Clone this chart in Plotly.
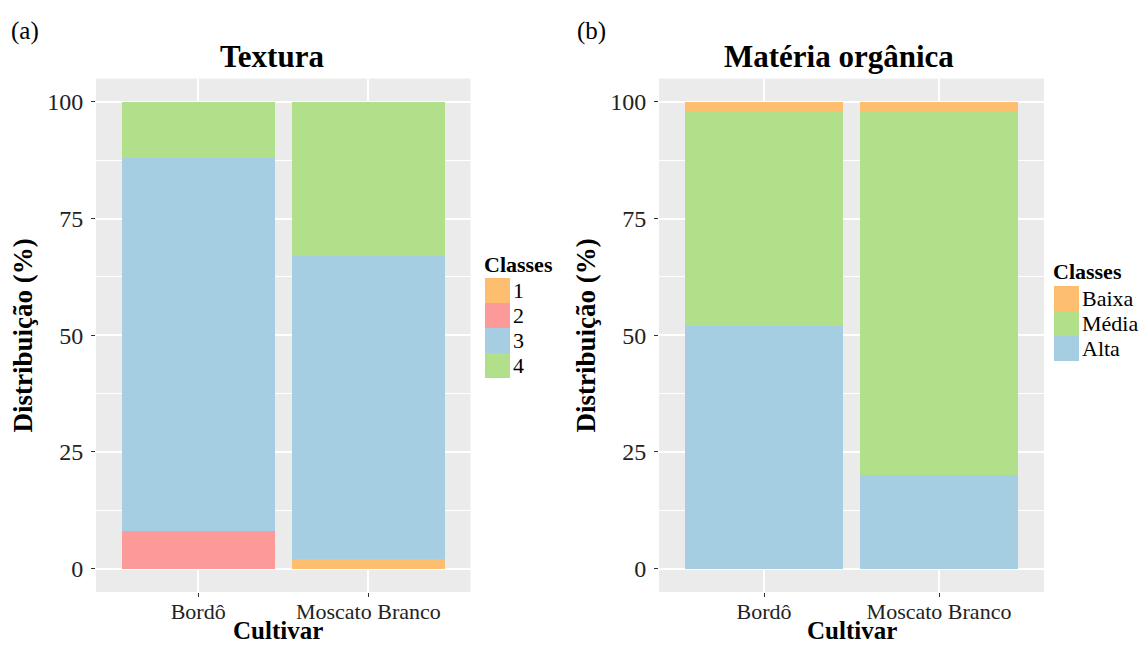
import plotly.graph_objects as go

# Data
cultivares = ["Bordô", "Moscato Branco"]

textura_classes = ["1", "2", "3", "4"]
textura_1 = [0, 2]
textura_2 = [8, 0]
textura_3 = [80, 65]
textura_4 = [12, 33]

mo_classes = ["Baixa", "Média", "Alta"]
mo_alta = [52, 20]
mo_media = [46, 78]
mo_baixa = [2, 2]

y_ticks = [0, 25, 50, 75, 100]

# Colours (ColorBrewer "Paired" tones)
C_ORANGE = "#FDBF6F"
C_RED = "#FB9A99"
C_BLUE = "#A6CEE3"
C_GREEN = "#B2DF8A"

FONT = "Liberation Serif"
W, H = 1145, 645

fig = go.Figure()

# Textura: stacked bottom to top 1, 2, 3, 4
for vals, col in [(textura_1, C_ORANGE), (textura_2, C_RED),
                  (textura_3, C_BLUE), (textura_4, C_GREEN)]:
    fig.add_trace(go.Bar(x=cultivares, y=vals, marker=dict(color=col, line_width=0),
                         xaxis="x", yaxis="y", showlegend=False))

# Matéria orgânica: stacked bottom to top Alta, Média, Baixa
for vals, col in [(mo_alta, C_BLUE), (mo_media, C_GREEN), (mo_baixa, C_ORANGE)]:
    fig.add_trace(go.Bar(x=cultivares, y=vals, marker=dict(color=col, line_width=0),
                         xaxis="x2", yaxis="y2", showlegend=False))


def px_x(p):
    return p / W


def px_y(p):
    return 1 - p / H


y_dom = [px_y(592), px_y(78.6)]

axis_common_x = dict(
    type="category", showgrid=True, gridcolor="white", gridwidth=1.6,
    ticks="outside", ticklen=4, tickcolor="#333333", tickwidth=1,
    ticklabelstandoff=-4,
    tickfont=dict(family=FONT, size=22, color="#222222"),
    zeroline=False, showline=False, range=[-0.6, 1.6], automargin=False,
)
axis_common_y = dict(
    range=[-5, 105], tickvals=y_ticks, ticktext=[str(v) for v in y_ticks],
    showgrid=True, gridcolor="white", gridwidth=1.6,
    minor=dict(tickvals=[12.5, 37.5, 62.5, 87.5], showgrid=True,
               gridcolor="white", gridwidth=0.7, ticks=""),
    ticks="outside", ticklen=4, tickcolor="#333333", tickwidth=1,
    ticklabelstandoff=3,
    tickfont=dict(family=FONT, size=24, color="#222222"),
    title=dict(text="<b>Distribuição (%)</b>", font=dict(family=FONT, size=27, color="black"),
               standoff=6),
    zeroline=False, showline=False, automargin=False,
)

fig.update_layout(
    width=W, height=H,
    margin=dict(l=0, r=0, t=0, b=0),
    paper_bgcolor="white", plot_bgcolor="#EBEBEB",
    barmode="stack", bargap=0.1,
    xaxis=dict(domain=[px_x(96), px_x(470.5)], anchor="y", **axis_common_x),
    yaxis=dict(domain=y_dom, anchor="x", **axis_common_y),
    xaxis2=dict(domain=[px_x(659), px_x(1044)], anchor="y2", **axis_common_x),
    yaxis2=dict(domain=y_dom, anchor="x2", **axis_common_y),
    font=dict(family=FONT),
)

annotations = []
shapes = []

# Panel labels, titles and x-axis titles
for lab, x in [("(a)", 9), ("(b)", 575)]:
    annotations.append(dict(text=lab, x=px_x(x), y=px_y(31), xref="paper", yref="paper",
                            xanchor="left", yanchor="middle", showarrow=False,
                            font=dict(family=FONT, size=25, color="black")))
for lab, x in [("<b>Textura</b>", 272), ("<b>Matéria orgânica</b>", 839)]:
    annotations.append(dict(text=lab, x=px_x(x), y=px_y(56), xref="paper",
                            yref="paper", xanchor="center", yanchor="middle", showarrow=False,
                            font=dict(family=FONT, size=31, color="black")))
for x in [278, 852]:
    annotations.append(dict(text="<b>Cultivar</b>", x=px_x(x), y=0, xref="paper",
                            yref="paper", xanchor="center", yanchor="bottom", showarrow=False,
                            borderpad=0, font=dict(family=FONT, size=25, color="black")))


def add_legend(x0, title_y, sw_top, labels, colors):
    annotations.append(dict(text="<b>Classes</b>", x=px_x(x0 - 3), y=px_y(title_y),
                            xref="paper", yref="paper", xanchor="left", yanchor="middle",
                            showarrow=False, font=dict(family=FONT, size=22, color="black")))
    sw = 25
    for i, (lab, col) in enumerate(zip(labels, colors)):
        top = sw_top + i * sw
        shapes.append(dict(type="rect", xref="paper", yref="paper",
                           x0=px_x(x0), x1=px_x(x0 + sw),
                           y0=px_y(top + sw), y1=px_y(top),
                           fillcolor=col, line=dict(width=0), layer="above"))
        annotations.append(dict(text=lab, x=px_x(x0 + sw + 1), y=px_y(top + sw / 2),
                                xref="paper", yref="paper", xanchor="left", yanchor="middle",
                                showarrow=False, font=dict(family=FONT, size=22, color="black")))


add_legend(485, 264, 278, textura_classes, [C_ORANGE, C_RED, C_BLUE, C_GREEN])
add_legend(1054, 271, 286, mo_classes, [C_ORANGE, C_GREEN, C_BLUE])

fig.update_layout(annotations=annotations, shapes=shapes)

fig.write_html("out.html")
